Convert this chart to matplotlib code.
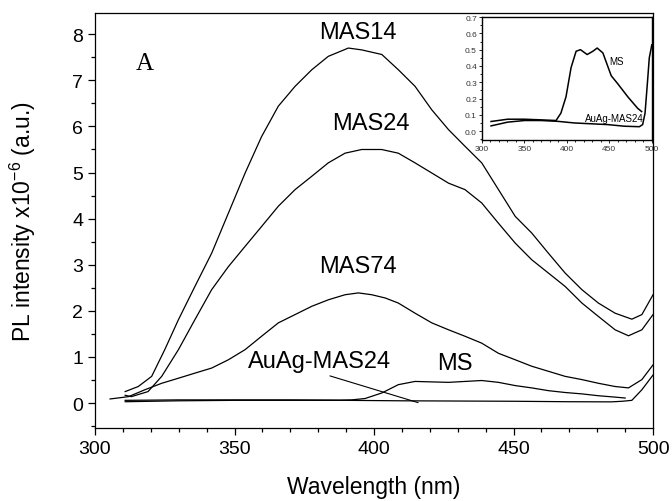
import numpy as np
import matplotlib
matplotlib.use("Agg")
import matplotlib.pyplot as plt
from matplotlib.ticker import MultipleLocator

plt.rcParams['font.family'] = ['Liberation Sans', 'DejaVu Sans']

# main panel: PL spectra (intensity in units of 1e-6)
mas14_wl = [310.8, 315.5, 320.3, 325, 329.9, 335.8, 341.8, 347.8, 353.8, 359.7, 365.7,
            371.7, 377.7, 383.6, 390.8, 395.6, 402.8, 408.7, 414.7, 420.7, 426.7, 432.6,
            438.6, 444.6, 450.6, 456.5, 462.5, 468.5, 474.5, 480.4, 486.4, 492.4, 496, 500]
mas14_y = [0.25, 0.36, 0.58, 1.16, 1.81, 2.53, 3.25, 4.12, 4.99, 5.78, 6.44,
           6.87, 7.23, 7.52, 7.70, 7.66, 7.56, 7.23, 6.87, 6.36, 5.93, 5.57,
           5.21, 4.63, 4.05, 3.69, 3.25, 2.82, 2.46, 2.17, 1.95, 1.82, 1.92, 2.35]

mas24_wl = [310.8, 313, 319, 323.9, 329.9, 335.8, 341.8, 347.8, 353.8, 359.7, 365.7,
            371.7, 377.7, 383.6, 389.6, 395.6, 402.7, 408.7, 414.7, 420.7, 426.7, 432.6,
            438.6, 444.6, 450.6, 456.5, 462.5, 468.5, 474.5, 480.4, 486.4, 491.2, 496, 500]
mas24_y = [0.17, 0.14, 0.25, 0.58, 1.16, 1.81, 2.46, 2.96, 3.40, 3.83, 4.27,
           4.63, 4.92, 5.21, 5.42, 5.50, 5.50, 5.42, 5.21, 4.99, 4.77, 4.63,
           4.34, 3.90, 3.47, 3.11, 2.82, 2.53, 2.17, 1.88, 1.59, 1.46, 1.59, 1.92]

mas74_wl = [305.4, 312, 317.9, 323.9, 329.9, 335.8, 341.8, 347.8, 353.8, 359.7, 365.7,
            371.7, 377.7, 383.6, 389.6, 394.4, 399.2, 404, 408.7, 414.7, 420.7, 426.7,
            432.6, 438.6, 444.6, 450.6, 456.5, 462.5, 468.5, 474.5, 480.4, 486.4, 491.2,
            496, 500]
mas74_y = [0.09, 0.14, 0.29, 0.43, 0.54, 0.65, 0.76, 0.94, 1.16, 1.45, 1.74,
           1.92, 2.10, 2.24, 2.35, 2.39, 2.35, 2.28, 2.17, 1.95, 1.74, 1.59,
           1.45, 1.30, 1.08, 0.94, 0.80, 0.69, 0.58, 0.51, 0.43, 0.36, 0.33,
           0.51, 0.83]

ms_wl = [310.8, 330, 350, 370, 388, 392, 396.8, 402.8, 408.7, 414.7, 420.7, 426.7,
         432.6, 438.6, 444.6, 450.6, 456.5, 462.5, 468.5, 474.5, 480.4, 486.4, 490]
ms_y = [0.06, 0.07, 0.07, 0.07, 0.065, 0.07, 0.1, 0.22, 0.40, 0.47, 0.46, 0.45,
        0.47, 0.49, 0.45, 0.38, 0.33, 0.27, 0.23, 0.20, 0.16, 0.13, 0.11]

auag_wl = [310.8, 330, 350, 370, 390, 410, 430, 450, 470, 485, 489, 492.4, 496, 500]
auag_y = [0.03, 0.05, 0.06, 0.06, 0.06, 0.05, 0.045, 0.04, 0.03, 0.027, 0.04, 0.06, 0.29, 0.61]

# inset: zoom on MS and AuAg-MAS24
in_ms_wl = [310.8, 330.4, 350, 369.6, 387.3, 393, 399, 405, 410.9, 416, 423.9,
            430.6, 435.7, 442.4, 452.2, 460, 471.8, 483.3, 488]
in_ms_y = [0.059, 0.073, 0.073, 0.069, 0.065, 0.11, 0.21, 0.39, 0.49, 0.50, 0.47,
           0.49, 0.51, 0.48, 0.34, 0.29, 0.21, 0.14, 0.12]
in_auag_wl = [310.8, 330.4, 350, 369.6, 389.2, 408.8, 428.4, 448, 467.7, 485.3,
              489.2, 492, 495, 497, 500]
in_auag_y = [0.032, 0.055, 0.065, 0.065, 0.06, 0.05, 0.045, 0.04, 0.03, 0.027,
             0.04, 0.11, 0.31, 0.45, 0.53]

fig = plt.figure(figsize=(6.72, 5.02), dpi=100)
ax = fig.add_axes([0.1414, 0.1454, 0.8304, 0.8267])

for wl, y in [(mas14_wl, mas14_y), (mas24_wl, mas24_y), (mas74_wl, mas74_y),
              (ms_wl, ms_y), (auag_wl, auag_y)]:
    ax.plot(wl, y, color='black', lw=0.9)

ax.set_xlim(300, 500)
ax.set_ylim(-0.54, 8.46)
ax.xaxis.set_major_locator(MultipleLocator(50))
ax.xaxis.set_minor_locator(MultipleLocator(10))
ax.yaxis.set_major_locator(MultipleLocator(1))
ax.yaxis.set_minor_locator(MultipleLocator(0.5))
ax.tick_params(which='major', direction='out', length=5, width=0.9, labelsize=14,
               top=False, right=False)
ax.tick_params(which='minor', direction='out', length=3, width=0.9,
               top=False, right=False)
for s in ax.spines.values():
    s.set_linewidth(0.9)

ax.set_xlabel('Wavelength (nm)', fontsize=16.5, labelpad=13)
ax.set_ylabel(r'PL intensity x10$^{\mathregular{-6}}$ (a.u.)', fontsize=16.5)
ax.yaxis.set_label_coords(-0.102, 0.5)

ax.text(394.3, 8.05, 'MAS14', fontsize=17, ha='center', va='center')
ax.text(398.9, 6.07, 'MAS24', fontsize=17, ha='center', va='center')
ax.text(394.3, 2.97, 'MAS74', fontsize=17, ha='center', va='center')
ax.text(429, 0.87, 'MS', fontsize=17, ha='center', va='center')
ax.text(380.3, 0.91, 'AuAg-MAS24', fontsize=17, ha='center', va='center')
ax.annotate('', xy=(415.8, 0.01), xytext=(384.2, 0.59),
            arrowprops=dict(arrowstyle='-', color='black', lw=0.8,
                            shrinkA=0, shrinkB=0))
ax.text(317.9, 7.38, 'A', fontsize=18, family='Liberation Serif',
        ha='center', va='center')

# inset
axi = fig.add_axes([0.717, 0.719, 0.253, 0.245])
axi.plot(in_ms_wl, in_ms_y, color='black', lw=1.1)
axi.plot(in_auag_wl, in_auag_y, color='black', lw=1.1)
axi.set_xlim(300, 500)
axi.set_ylim(-0.055, 0.7)
axi.xaxis.set_major_locator(MultipleLocator(50))
axi.xaxis.set_minor_locator(MultipleLocator(10))
axi.yaxis.set_major_locator(MultipleLocator(0.1))
axi.yaxis.set_minor_locator(MultipleLocator(0.05))
axi.tick_params(which='major', direction='out', length=2.5, width=0.6,
                labelsize=6, pad=1, labelcolor='#333333')
axi.tick_params(which='minor', direction='out', length=1.5, width=0.6)
for s in axi.spines.values():
    s.set_linewidth(1.0)
axi.text(458, 0.43, 'MS', fontsize=7, ha='center', va='center')
axi.text(456, 0.08, 'AuAg-MAS24', fontsize=7, ha='center', va='center')

fig.savefig('out.png', dpi=100)
